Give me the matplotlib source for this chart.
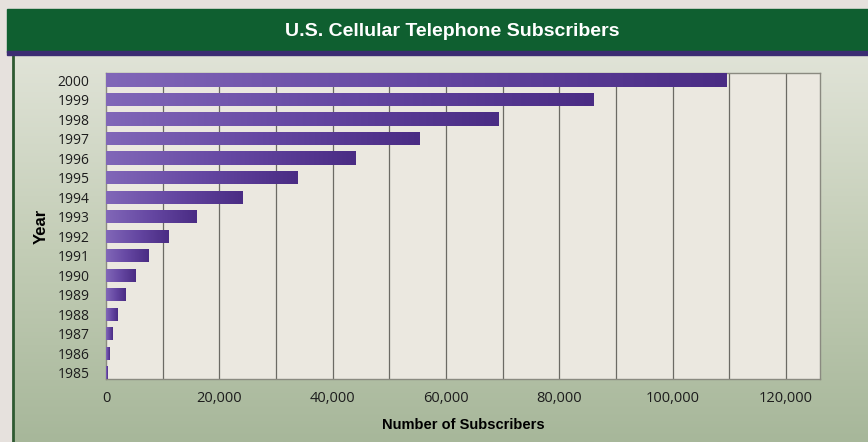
import matplotlib

matplotlib.use("Agg")
import matplotlib.pyplot as plt
import numpy as np
from matplotlib.colors import LinearSegmentedColormap
from matplotlib.patches import Rectangle

# U.S. cellular subscribers, thousands
years = [1985, 1986, 1987, 1988, 1989, 1990, 1991, 1992,
         1993, 1994, 1995, 1996, 1997, 1998, 1999, 2000]
subscribers = [340, 682, 1231, 2069, 3509, 5283, 7557, 11033,
               16009, 24134, 33786, 44043, 55312, 69209, 86047, 109478]
xticks = [0, 20000, 40000, 60000, 80000, 100000, 120000]

HEAD_FONT = ["Liberation Sans", "DejaVu Sans"]
TICK_FONT = ["Open Sans", "DejaVu Sans"]

fig = plt.figure(figsize=(8.68, 4.42), dpi=100)
fig.patch.set_facecolor("#e6e1dd")

# backdrop: green panel with a soft vertical gradient, banner on top
bg = fig.add_axes([0, 0, 1, 1], zorder=0)
bg.set_xlim(0, 868); bg.set_ylim(442, 0); bg.axis("off")
grad = np.linspace(0, 1, 256).reshape(-1, 1)
panel_cmap = LinearSegmentedColormap.from_list("panel", ["#e0e3d7", "#c3cdb6", "#a7b79a"])
bg.imshow(grad, cmap=panel_cmap, extent=[13, 868, 442, 56], aspect="auto", zorder=1)
bg.plot([13, 13], [56, 442], color="#2f5a32", lw=2.0, zorder=2)
bg.add_patch(Rectangle((7, 9), 861, 43, color="#0f5f30", zorder=3))
bg.add_patch(Rectangle((7, 51), 861, 4, color="#3b2c72", zorder=3))
bg.text(452, 31, "U.S. Cellular Telephone Subscribers", color="white",
        fontsize=14, fontweight="bold", family=HEAD_FONT,
        ha="center", va="center", zorder=4)

ax = fig.add_axes([106 / 868, 1 - 379 / 442, (820 - 106) / 868, (379 - 73) / 442], zorder=2)
ax.set_facecolor("#ebe8e0")

bar_cmap = LinearSegmentedColormap.from_list("bar", ["#8167b8", "#6547a2", "#4a2c84"])
bars = ax.barh(range(len(years)), subscribers, height=0.67, color="none", zorder=3)
for b in bars:
    x0, y0, w, h = b.get_x(), b.get_y(), b.get_width(), b.get_height()
    im = ax.imshow(np.linspace(0, 1, 256).reshape(1, -1), cmap=bar_cmap,
                   extent=[x0, x0 + max(w, 1), y0, y0 + h], aspect="auto", zorder=3)
    im.set_clip_path(b)
ax.set_xlim(0, 126000)
ax.set_ylim(-0.33, len(years) - 0.64)

for gx in range(10000, 126000, 10000):
    ax.axvline(gx, color="#6b6a64", lw=0.9, zorder=2)
for s in ax.spines.values():
    s.set_color("#8a8a80"); s.set_linewidth(1.0)

ax.set_yticks(range(len(years)))
ax.set_yticklabels([str(y) for y in years], fontsize=10, color="#1d1d1d", family=TICK_FONT)
ax.set_xticks(xticks)
ax.set_xticklabels([f"{v:,}" for v in xticks], fontsize=10.5, color="#1d1d1d", family=TICK_FONT)
ax.tick_params(axis="y", length=0, pad=12)
ax.tick_params(axis="x", length=0, pad=9)
ax.set_ylabel("Year", fontsize=12, fontweight="bold", family=HEAD_FONT, labelpad=6)
ax.set_xlabel("Number of Subscribers", fontsize=10.5, fontweight="bold",
              family=HEAD_FONT, labelpad=8)

fig.savefig("out.png", dpi=100)
